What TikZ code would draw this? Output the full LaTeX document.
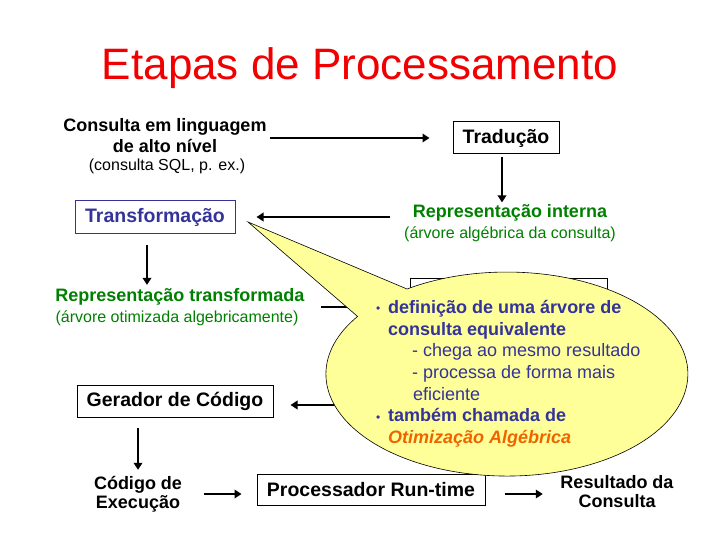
\documentclass[tikz,border=0pt]{standalone}
\usepackage{fontspec}
\setmainfont{Liberation Sans}
\usetikzlibrary{positioning,arrows.meta}
\definecolor{epRed}{RGB}{240,0,0}
\definecolor{epGreen}{RGB}{0,128,0}
\definecolor{epBlue}{RGB}{51,51,153}
\definecolor{epOrange}{RGB}{240,100,0}
\definecolor{epYellow}{RGB}{255,255,153}
\tikzset{
    rotulo/.style={font=\fontsize{18}{21}\selectfont\bfseries, align=center, inner sep=0pt},
    obs/.style={font=\fontsize{16}{19}\selectfont, align=center, inner sep=0pt},
    caixa/.style={draw, line width=1pt, font=\fontsize{19.5}{22}\selectfont\bfseries,
                  inner sep=0pt, minimum height=32pt},
    seta/.style={-{Triangle[length=7pt,width=8.5pt]}, line width=2.4pt},
    balao/.style={draw, line width=0.6pt, fill=epYellow}
}
\newcommand{\marca}{\makebox[12pt][l]{\raisebox{0.5pt}{\fontsize{12}{12}\selectfont •}}}

\begin{document}
\begin{tikzpicture}[x=1pt,y=-1pt]
  \useasboundingbox (0,0) rectangle (720,540);

  % Title
  \node[font=\fontsize{44}{48}\selectfont, text=epRed] (titulo) at (360,68) {Etapas de Processamento};

  % Query and translation
  \node[rotulo] (consulta) at (165,135.5) {Consulta em linguagem\\de alto nível};
  \node[obs] (consultaobs) at (167,166) {(consulta SQL, p. ex.)};
  \node[caixa, minimum width=106pt] (traducao) at (506,138) {Tradução};
  \node[rotulo, text=epGreen] (repint) at (510,213) {Representação interna};
  \node[obs, text=epGreen] (repintobs) at (510,234) {(árvore algébrica da consulta)};

  % Transformation
  \node[caixa, minimum width=160pt, draw=epBlue, text=epBlue] (transf) at (155,217) {Transformação};
  \node[rotulo, text=epGreen] (reptrans) at (180,297) {Representação transformada};
  \node[obs, text=epGreen] (reptransobs) at (177,318) {(árvore otimizada algebricamente)};
  \node[draw, line width=1pt, fill=white, minimum width=197pt, minimum height=58pt] (otim) at (508.5,307) {};
  \coordinate (gerin) at (420,405);

  % Code generation and execution
  \node[caixa, minimum width=196pt] (gerador) at (175,401.5) {Gerador de Código};
  \node[rotulo, font=\fontsize{18}{19}\selectfont\bfseries] (codigo) at (138,494) {Código de\\Execução};
  \node[caixa, minimum width=228pt, minimum height=31pt] (processador) at (371,489.5) {Processador Run-time};
  \node[rotulo, font=\fontsize{18}{19}\selectfont\bfseries] (resultado) at (617,492) {Resultado da\\Consulta};

  % Arrows
  \draw[seta, shorten <=3.5pt, shorten >=23pt] (consulta.east |- traducao.west) -- (traducao.west);
  \draw[seta, shorten <=3pt, shorten >=2pt] ([xshift=-4pt]traducao.south) -- ([xshift=-4pt]traducao.south |- repint.north);
  \draw[seta, shorten <=23pt, shorten >=21pt] (repint.west |- transf.east) -- (transf.east);
  \draw[seta, shorten <=11.5pt, shorten >=3.5pt] ([xshift=-8pt]transf.south) -- ([xshift=-8pt]transf.south |- reptrans.north);
  \draw[seta, shorten <=16pt] (reptrans.east |- otim.west) -- (otim.west);
  \draw[seta, shorten >=17pt] (gerin) -- (gerador.east |- gerin);
  \draw[seta, shorten <=10pt, shorten >=6pt] (codigo.north |- gerador.south) -- (codigo.north);
  \draw[seta, shorten <=22pt, shorten >=15pt] (codigo.east) -- (processador.west |- codigo.east);
  \draw[seta, shorten <=19pt, shorten >=17.5pt] (processador.east |- codigo.east) -- (resultado.west |- codigo.east);

  % Callout
  \coordinate (ponta) at (248,222);
  \filldraw[balao] (ponta) -- (407,289)
    arc[start angle=236.5, end angle=574.4, x radius=181, y radius=102] -- cycle;
  \node[anchor=north west, inner sep=0pt, align=left, text=epBlue,
        font=\fontsize{18}{21.7}\selectfont] (notatxt) at (376,300) {%
    \marca\textbf{definição de uma árvore de}\\
    \hspace*{12pt}\textbf{consulta equivalente}\\
    \hspace*{36pt}- chega ao mesmo resultado\\
    \hspace*{36pt}- processa de forma mais\\
    \hspace*{37pt}eficiente\\
    \marca\textbf{também chamada de}\\
    \hspace*{12pt}\textcolor{epOrange}{\bfseries\itshape Otimização Algébrica}};
\end{tikzpicture}
\end{document}
